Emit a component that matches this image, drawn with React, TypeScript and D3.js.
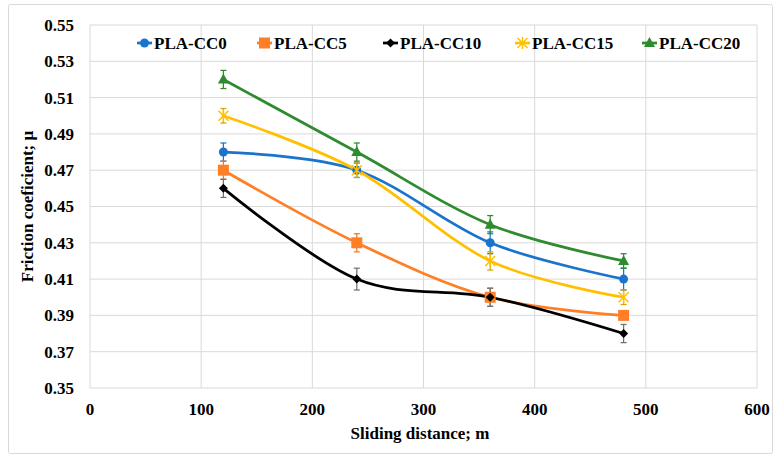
import React from "react";
import * as d3 from "d3";

const distances = [120, 240, 360, 480];
const seriesNames = ["PLA-CC0", "PLA-CC5", "PLA-CC10", "PLA-CC15", "PLA-CC20"];
const cc0 = [0.48, 0.47, 0.43, 0.41];
const cc5 = [0.47, 0.43, 0.40, 0.39];
const cc10 = [0.46, 0.41, 0.40, 0.38];
const cc15 = [0.50, 0.47, 0.42, 0.40];
const cc20 = [0.52, 0.48, 0.44, 0.42];
const err0 = [0.005, 0.004, 0.006, 0.006];
const err5 = [0.005, 0.005, 0.005, 0.002];
const err10 = [0.005, 0.006, 0.005, 0.005];
const err15 = [0.004, 0.004, 0.005, 0.004];
const err20 = [0.005, 0.005, 0.005, 0.004];
const yTicks = [0.35, 0.37, 0.39, 0.41, 0.43, 0.45, 0.47, 0.49, 0.51, 0.53, 0.55];
const xTicks = [0, 100, 200, 300, 400, 500, 600];

const colors = ["#1B74CC", "#FF7F27", "#000000", "#FFC000", "#2E8B2E"];
const errColors = ["#1B74CC", "#F07A28", "#707070", "#D9A400", "#2E8B2E"];
const markers = ["circle", "square", "diamond", "x", "triangle"];

const values = [cc0, cc5, cc10, cc15, cc20];
const errs = [err0, err5, err10, err15, err20];

const font = '"Liberation Serif", "Times New Roman", "DejaVu Serif", serif';
const ts: React.CSSProperties = { fontFamily: font, fontWeight: 700, fontSize: 17 };

function Marker({ type, cx, cy, color }: { type: string; cx: number; cy: number; color: string }) {
  if (type === "circle") return <circle cx={cx} cy={cy} r={4.5} fill={color} />;
  if (type === "square") return <rect x={cx - 5.5} y={cy - 5.5} width={11} height={11} fill={color} />;
  if (type === "diamond")
    return <path d={`M${cx},${cy - 4.5}L${cx + 4.5},${cy}L${cx},${cy + 4.5}L${cx - 4.5},${cy}Z`} fill={color} />;
  if (type === "triangle")
    return <path d={`M${cx},${cy - 6}L${cx + 5.5},${cy + 4}L${cx - 5.5},${cy + 4}Z`} fill={color} />;
  if (type === "x")
    return (
      <g stroke={color} strokeWidth={1.5}>
        <line x1={cx - 5} y1={cy - 5} x2={cx + 5} y2={cy + 5} />
        <line x1={cx - 5} y1={cy + 5} x2={cx + 5} y2={cy - 5} />
        <line x1={cx} y1={cy - 6} x2={cx} y2={cy + 6} />
      </g>
    );
  return null;
}

export default function App() {
  const x = d3.scaleLinear().domain([0, 600]).range([90, 757]);
  const y = d3.scaleLinear().domain([0.35, 0.55]).range([388, 25]);
  const line = d3
    .line<number>()
    .x((_, i) => x(distances[i]))
    .y((d) => y(d))
    .curve(d3.curveCatmullRom.alpha(0));

  const legendX = [137, 257, 383, 515, 642];

  return (
    <svg width={777} height={461} style={{ position: "absolute", left: 0, top: 0, background: "#fff" }}>
      <rect x={8.5} y={4.5} width={764} height={449} fill="#fff" stroke="#d9d9d9" rx={2} />
      {yTicks.map((t) => (
        <line key={"gy" + t} x1={x(0)} x2={x(600)} y1={y(t)} y2={y(t)} stroke="#d9d9d9" strokeWidth={1} />
      ))}
      {xTicks.map((t) => (
        <line key={"gx" + t} x1={x(t)} x2={x(t)} y1={y(0.35)} y2={y(0.55)} stroke="#d9d9d9" strokeWidth={1} />
      ))}
      {yTicks.map((t) => (
        <text key={"ty" + t} x={74} y={y(t)} dy="0.35em" textAnchor="end" style={ts}>
          {t.toFixed(2)}
        </text>
      ))}
      {xTicks.map((t) => (
        <text key={"tx" + t} x={x(t)} y={415} textAnchor="middle" style={ts}>
          {t}
        </text>
      ))}
      <text x={420} y={439} textAnchor="middle" style={ts}>
        Sliding distance; m
      </text>
      <text transform={`translate(33,${(y(0.35) + y(0.55)) / 2}) rotate(-90)`} textAnchor="middle" style={ts}>
        Friction coeficient; μ
      </text>
      {values.map((vals, si) => (
        <path key={"l" + si} d={line(vals) || ""} fill="none" stroke={colors[si]} strokeWidth={2.75} />
      ))}
      {values.map((vals, si) =>
        vals.map((v, i) => {
          const cx = x(distances[i]);
          const y1 = y(v + errs[si][i]);
          const y2 = y(v - errs[si][i]);
          return (
            <g key={"e" + si + "-" + i} stroke={errColors[si]} strokeWidth={1.25}>
              <line x1={cx} x2={cx} y1={y1} y2={y2} />
              <line x1={cx - 3} x2={cx + 3} y1={y1} y2={y1} />
              <line x1={cx - 3} x2={cx + 3} y1={y2} y2={y2} />
            </g>
          );
        })
      )}
      {values.map((vals, si) =>
        vals.map((v, i) => (
          <Marker key={"m" + si + "-" + i} type={markers[si]} cx={x(distances[i])} cy={y(v)} color={colors[si]} />
        ))
      )}
      {seriesNames.map((name, si) => (
        <g key={"lg" + si}>
          <line x1={legendX[si]} x2={legendX[si] + 15} y1={43} y2={43} stroke={colors[si]} strokeWidth={2.75} />
          <Marker type={markers[si]} cx={legendX[si] + 7.5} cy={43} color={colors[si]} />
          <text x={legendX[si] + 17} y={43} dy="0.35em" style={ts}>
            {name}
          </text>
        </g>
      ))}
    </svg>
  );
}
